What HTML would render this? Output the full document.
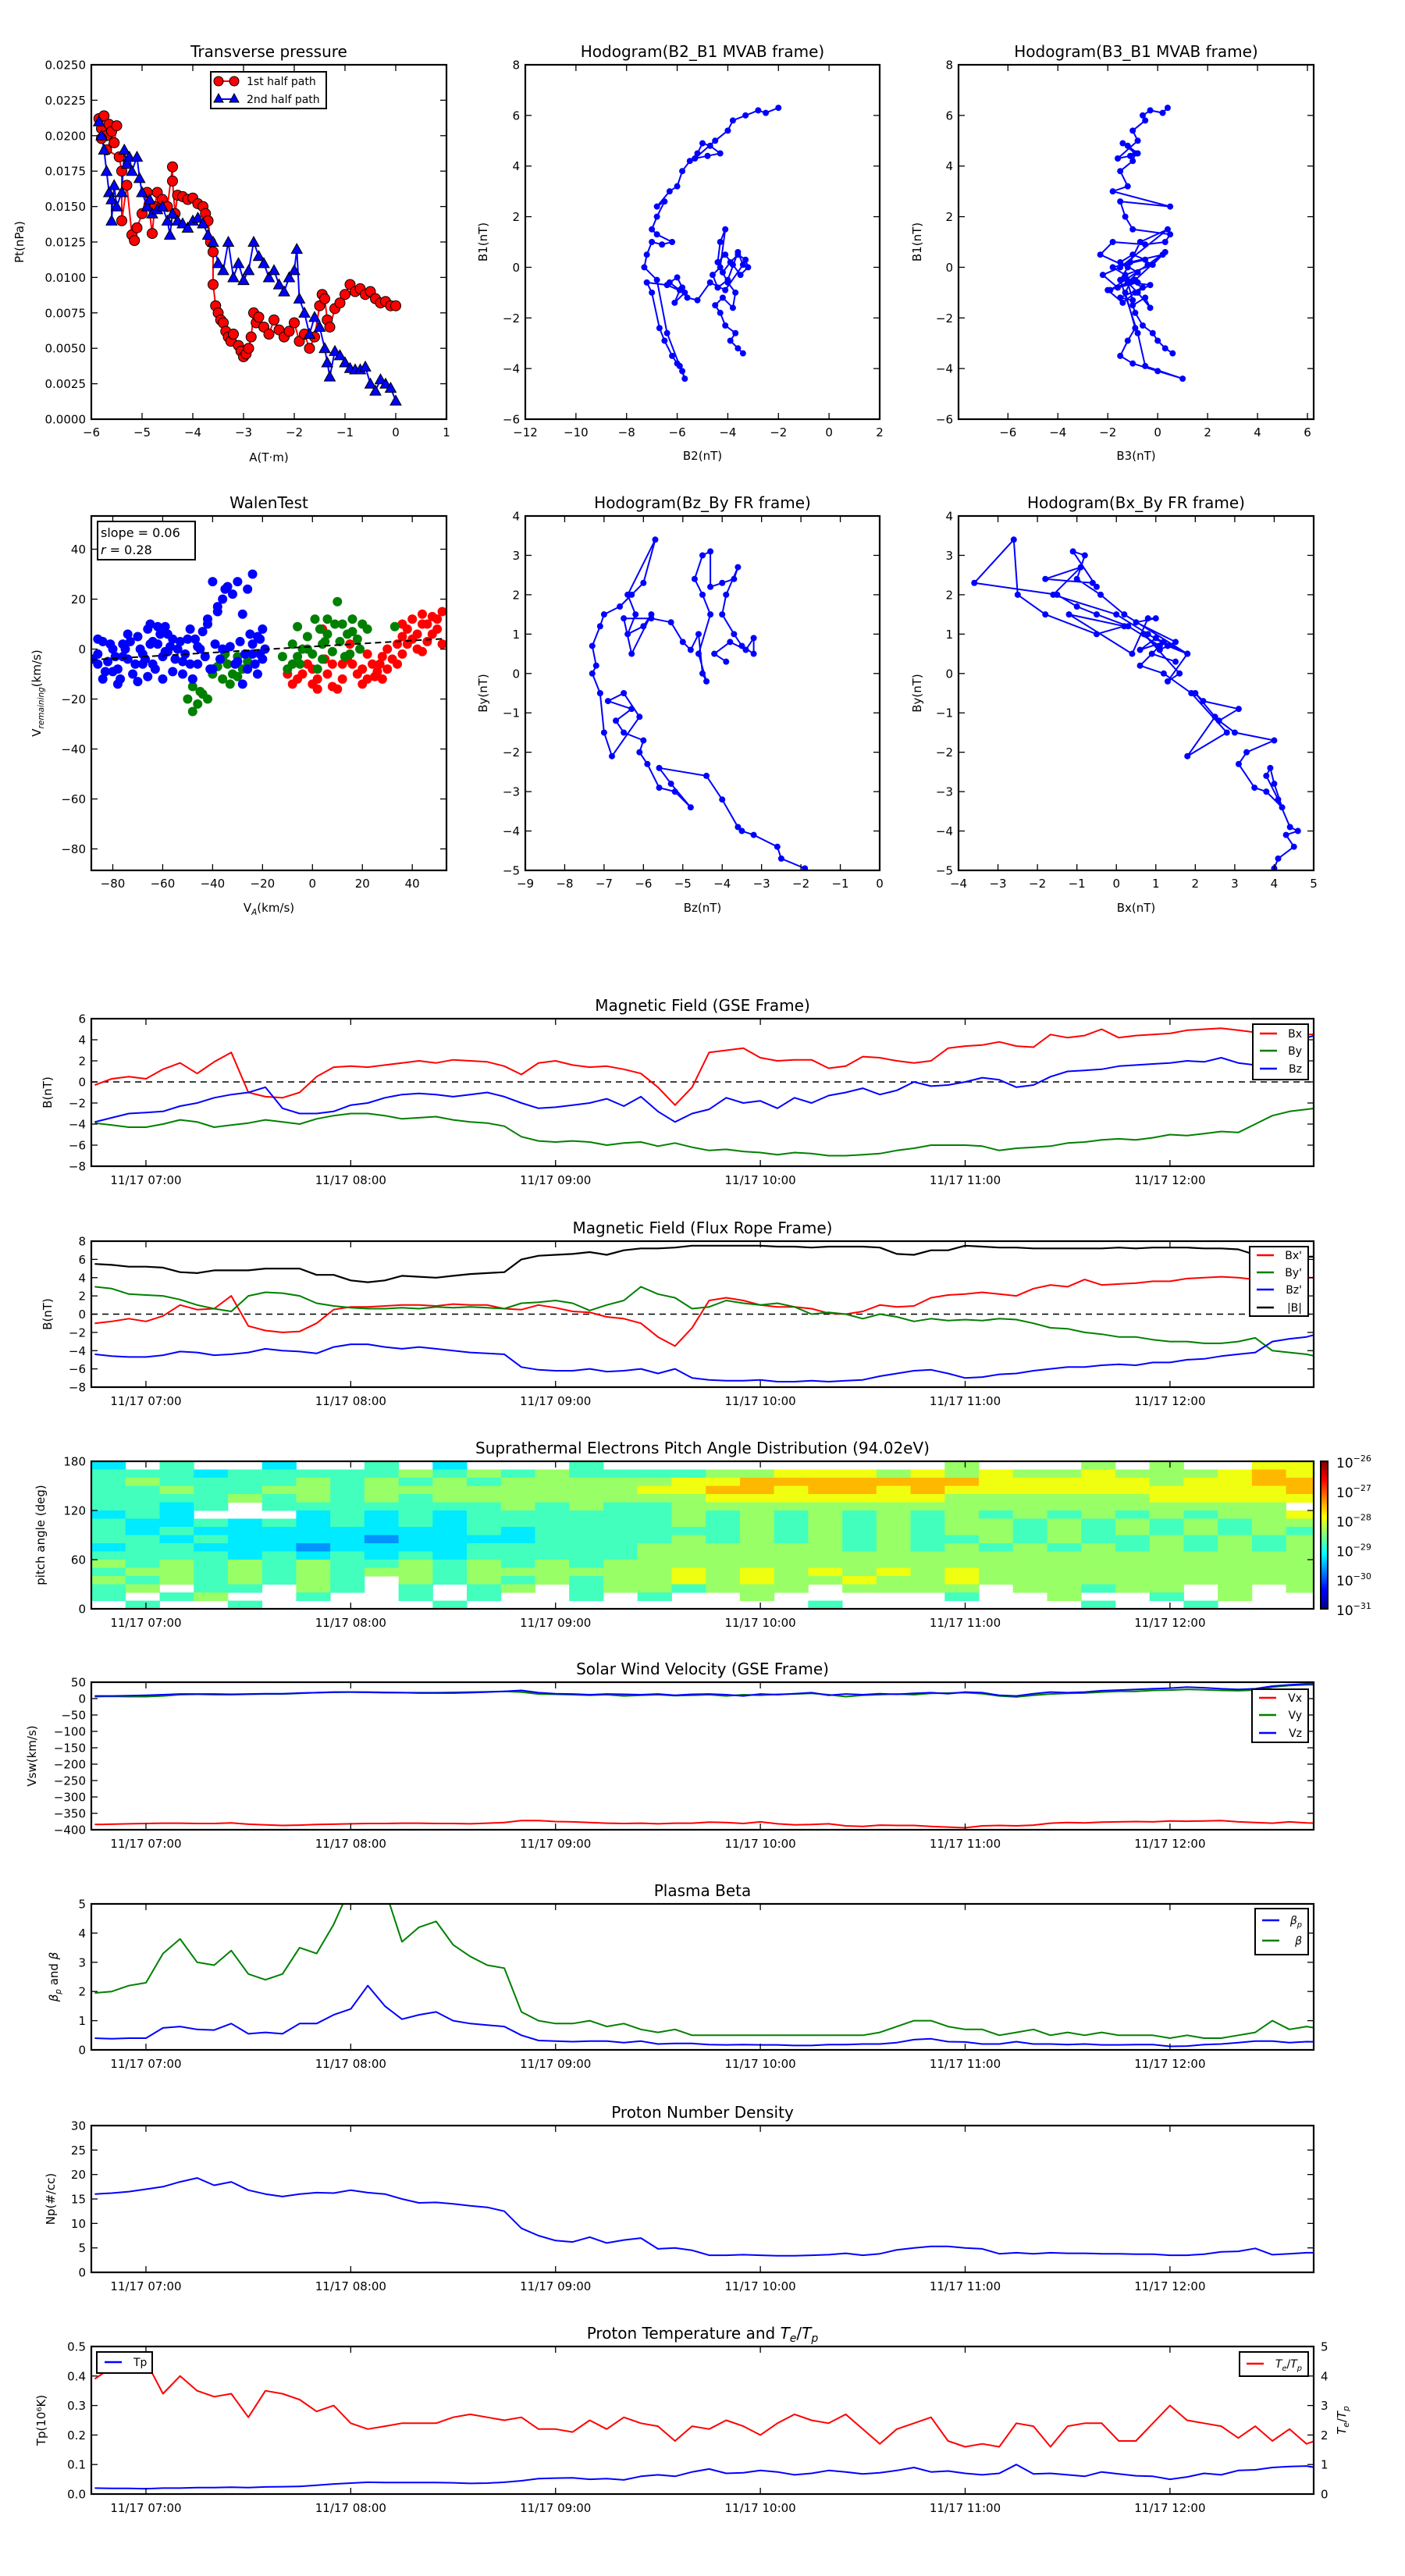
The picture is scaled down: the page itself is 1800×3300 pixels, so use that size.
<!DOCTYPE html>
<html><head><meta charset="utf-8">
<style>
body{margin:0;background:#fff}
svg{display:block}
text{font-family:"DejaVu Sans","Liberation Sans",sans-serif;fill:#000}
</style></head>
<body>
<svg id="fig" width="1800" height="3300" viewBox="0 0 1800 3300"></svg>
<script>
// ---------------- DATA ----------------
const times=[45,50,55,60,65,70,75,80,85,90,95,100,105,110,115,120,125,130,135,140,145,150,155,160,165,170,175,180,185,190,195,200,205,210,215,220,225,230,235,240,245,250,255,260,265,270,275,280,285,290,295,300,305,310,315,320,325,330,335,340,345,350,355,360,365,370,375,380,385,390,395,400,405];
const hourTicks=[60,120,180,240,300,360];
const hourLabels=["11/17 07:00","11/17 08:00","11/17 09:00","11/17 10:00","11/17 11:00","11/17 12:00"];

const gseBx=[-0.3,0.3,0.5,0.3,1.2,1.8,0.8,1.9,2.8,-1.0,-1.4,-1.5,-1.0,0.5,1.4,1.5,1.4,1.6,1.8,2.0,1.8,2.1,2.0,1.9,1.5,0.7,1.8,2.0,1.6,1.4,1.5,1.2,0.8,-0.5,-2.2,-0.5,2.8,3.0,3.2,2.3,2.0,2.1,2.1,1.3,1.5,2.4,2.3,2.0,1.8,2.0,3.2,3.4,3.5,3.8,3.4,3.3,4.5,4.2,4.4,5.0,4.2,4.4,4.5,4.6,4.9,5.0,5.1,4.9,4.7,4.5,4.6,4.5,4.5];
const gseBy=[-3.9,-4.1,-4.3,-4.3,-4.0,-3.6,-3.8,-4.3,-4.1,-3.9,-3.6,-3.8,-4.0,-3.5,-3.2,-3.0,-3.0,-3.2,-3.5,-3.4,-3.3,-3.6,-3.8,-3.9,-4.2,-5.2,-5.6,-5.7,-5.6,-5.7,-6.0,-5.8,-5.7,-6.1,-5.8,-6.2,-6.5,-6.4,-6.6,-6.7,-6.9,-6.7,-6.8,-7.0,-7.0,-6.9,-6.8,-6.5,-6.3,-6.0,-6.0,-6.0,-6.1,-6.5,-6.3,-6.2,-6.1,-5.8,-5.7,-5.5,-5.4,-5.5,-5.3,-5.0,-5.1,-4.9,-4.7,-4.8,-4.0,-3.2,-2.8,-2.6,-2.4];
const gseBz=[-3.8,-3.4,-3.0,-2.9,-2.8,-2.3,-2.0,-1.5,-1.2,-1.0,-0.5,-2.5,-3.0,-3.0,-2.8,-2.2,-2.0,-1.5,-1.2,-1.1,-1.2,-1.4,-1.2,-1.0,-1.4,-2.0,-2.5,-2.4,-2.2,-2.0,-1.6,-2.3,-1.4,-2.8,-3.8,-3.0,-2.6,-1.5,-2.0,-1.8,-2.5,-1.5,-2.0,-1.3,-1.0,-0.6,-1.2,-0.8,0.0,-0.4,-0.3,0.0,0.4,0.2,-0.5,-0.3,0.5,1.0,1.1,1.2,1.5,1.6,1.7,1.8,2.0,1.9,2.3,1.8,1.6,2.8,3.5,4.2,4.6];

const frBx=[-1.0,-0.8,-0.5,-0.8,-0.2,1.0,0.5,0.6,2.0,-1.3,-1.8,-2.0,-1.9,-1.0,0.5,0.8,0.8,0.9,1.0,1.0,0.9,1.1,1.0,1.0,0.6,0.5,1.0,0.7,0.3,0.2,-0.3,-0.5,-1.0,-2.5,-3.5,-1.5,1.5,1.8,1.5,1.0,0.8,0.8,0.6,0.1,0.0,0.3,1.0,0.8,0.9,1.8,2.1,2.2,2.4,2.2,2.0,2.8,3.2,3.0,3.8,3.2,3.3,3.4,3.6,3.6,3.9,4.0,4.1,4.0,3.8,4.0,4.0,4.0,4.0];
const frBy=[3.0,2.8,2.2,2.1,2.0,1.6,1.0,0.6,0.3,2.0,2.4,2.3,2.0,1.2,0.9,0.7,0.6,0.6,0.7,0.6,0.8,0.7,0.8,0.7,0.6,1.2,1.3,1.5,1.2,0.4,1.0,1.5,3.0,2.2,1.8,0.6,0.8,1.5,1.2,1.0,1.2,0.8,0.0,0.2,0.0,-0.5,0.0,-0.3,-0.8,-0.5,-0.7,-0.6,-0.7,-0.5,-0.6,-1.0,-1.5,-1.6,-2.0,-2.2,-2.5,-2.5,-2.8,-3.0,-3.0,-3.2,-3.2,-3.0,-2.6,-4.0,-4.2,-4.4,-4.8];
const frBz=[-4.4,-4.6,-4.7,-4.7,-4.5,-4.1,-4.2,-4.5,-4.4,-4.2,-3.8,-4.0,-4.1,-4.3,-3.6,-3.3,-3.3,-3.6,-3.8,-3.6,-3.8,-4.0,-4.2,-4.3,-4.4,-5.8,-6.1,-6.2,-6.2,-6.0,-6.3,-6.2,-6.0,-6.5,-6.0,-7.0,-7.2,-7.3,-7.3,-7.2,-7.4,-7.4,-7.3,-7.4,-7.3,-7.2,-6.8,-6.5,-6.2,-6.1,-6.5,-7.0,-6.9,-6.6,-6.5,-6.2,-6.0,-5.8,-5.8,-5.6,-5.5,-5.6,-5.3,-5.3,-5.0,-4.9,-4.6,-4.4,-4.2,-3.0,-2.7,-2.5,-2.0];
const frBmag=[5.5,5.4,5.2,5.2,5.1,4.6,4.5,4.8,4.8,4.8,5.0,5.0,5.0,4.3,4.3,3.7,3.5,3.7,4.2,4.1,4.0,4.2,4.4,4.5,4.6,6.0,6.4,6.5,6.6,6.8,6.5,7.0,7.2,7.2,7.3,7.5,7.5,7.5,7.5,7.5,7.4,7.4,7.3,7.4,7.4,7.4,7.3,6.6,6.5,7.0,7.0,7.5,7.4,7.3,7.3,7.2,7.2,7.2,7.2,7.2,7.3,7.2,7.3,7.3,7.3,7.2,7.2,7.1,6.5,6.4,6.3,6.3,6.3];

const swVx=[-384,-383,-382,-381,-380,-380,-381,-381,-379,-383,-385,-387,-386,-384,-383,-382,-381,-381,-380,-380,-381,-381,-382,-380,-378,-372,-372,-375,-376,-378,-380,-381,-380,-382,-380,-380,-377,-378,-381,-376,-382,-385,-384,-382,-388,-390,-386,-387,-387,-390,-392,-394,-388,-387,-388,-386,-380,-378,-379,-377,-376,-375,-376,-373,-374,-373,-372,-376,-378,-380,-376,-379,-381];
const swVy=[6,7,6,6,8,12,13,12,12,13,14,14,16,18,19,20,20,19,18,18,18,19,20,21,22,20,14,13,12,10,12,8,10,12,9,10,12,8,12,10,13,14,16,12,6,10,12,14,12,16,17,18,15,8,5,10,14,16,17,20,22,22,25,26,28,27,25,24,26,35,40,42,43];
const swVz=[8,8,9,10,12,14,14,14,13,14,15,15,17,18,20,20,19,18,18,17,17,17,18,20,22,25,18,15,14,12,14,13,12,14,10,13,14,12,8,14,12,15,18,10,14,12,15,13,16,18,15,20,18,10,8,15,20,18,20,24,26,28,30,32,35,33,30,28,30,38,42,45,44];

const betaP=[0.4,0.38,0.4,0.4,0.75,0.8,0.7,0.68,0.9,0.55,0.6,0.55,0.9,0.9,1.2,1.4,2.2,1.5,1.05,1.2,1.3,1.0,0.9,0.85,0.8,0.5,0.32,0.3,0.28,0.3,0.3,0.25,0.3,0.2,0.22,0.22,0.18,0.17,0.18,0.17,0.17,0.15,0.15,0.18,0.18,0.2,0.2,0.25,0.35,0.38,0.28,0.27,0.2,0.2,0.28,0.2,0.2,0.18,0.2,0.17,0.17,0.18,0.18,0.12,0.13,0.18,0.2,0.25,0.3,0.3,0.25,0.28,0.27];
const betaT=[1.95,2.0,2.2,2.3,3.3,3.8,3.0,2.9,3.4,2.6,2.4,2.6,3.5,3.3,4.3,5.6,6.0,5.5,3.7,4.2,4.4,3.6,3.2,2.9,2.8,1.3,1.0,0.9,0.9,1.0,0.8,0.9,0.7,0.6,0.7,0.5,0.5,0.5,0.5,0.5,0.5,0.5,0.5,0.5,0.5,0.5,0.6,0.8,1.0,1.0,0.8,0.7,0.7,0.5,0.6,0.7,0.5,0.6,0.5,0.6,0.5,0.5,0.5,0.4,0.5,0.4,0.4,0.5,0.6,1.0,0.7,0.8,0.7];

const densNp=[16,16.2,16.5,17,17.5,18.5,19.3,17.8,18.5,16.8,16,15.5,16,16.3,16.2,16.8,16.3,16.0,15,14.2,14.3,14.0,13.6,13.3,12.5,9.0,7.5,6.5,6.2,7.2,6.0,6.6,7.0,4.8,5.0,4.5,3.5,3.5,3.6,3.5,3.4,3.4,3.5,3.6,3.9,3.5,3.8,4.6,5.0,5.3,5.3,5.0,4.8,3.8,4.0,3.8,4.0,3.9,3.9,3.8,3.8,3.7,3.7,3.5,3.5,3.7,4.2,4.3,4.9,3.6,3.8,4.0,4.0];

const tempTp=[0.02,0.019,0.019,0.018,0.02,0.02,0.022,0.022,0.023,0.022,0.024,0.025,0.026,0.03,0.034,0.037,0.04,0.039,0.039,0.039,0.039,0.038,0.036,0.037,0.04,0.045,0.052,0.054,0.055,0.05,0.052,0.048,0.06,0.065,0.06,0.075,0.085,0.07,0.072,0.08,0.075,0.065,0.07,0.08,0.075,0.068,0.072,0.08,0.09,0.075,0.078,0.07,0.065,0.07,0.1,0.068,0.07,0.065,0.06,0.075,0.068,0.062,0.06,0.05,0.058,0.07,0.065,0.08,0.082,0.09,0.093,0.095,0.085];
const tempRatio=[3.9,4.3,4.6,4.5,3.4,4.0,3.5,3.3,3.4,2.6,3.5,3.4,3.2,2.8,3.0,2.4,2.2,2.3,2.4,2.4,2.4,2.6,2.7,2.6,2.5,2.6,2.2,2.2,2.1,2.5,2.2,2.6,2.4,2.3,1.8,2.3,2.2,2.5,2.3,2.0,2.4,2.7,2.5,2.4,2.7,2.2,1.7,2.2,2.4,2.6,1.8,1.6,1.7,1.6,2.4,2.3,1.6,2.3,2.4,2.4,1.8,1.8,2.4,3.0,2.5,2.4,2.3,1.9,2.3,1.8,2.2,1.7,1.9];

// PAD: rows top (170-180 deg) to bottom (0-10 deg); 10-min columns from padStart; digit d -> log10 f = -31 + d/2 ; '.' = no data
const padStart=44, padStep=10;
const padBins=[175,165,155,145,135,125,115,105,95,85,75,65,55,45,35,25,15,5];
const padRows=[
"3.4..3..4.3...4..........5...5.5..66",
"444344444545454444556665656556555676",
"454444545454555556677777776666656677",
"445445545555555566776776766666666667",
"444454545455555555666666655555566666",
"4434.444444454544555555555555555555.",
"343...343434444445454545454545454556",
"433434343434444445454545455454545455",
"434333333334344444454545455454545454",
"443433332333344445454545445454454545",
"344333233334444455555545454545454545",
"444434343434444455555555555555555555",
"545454544545454555555555555555555555",
"455454545545555556565656565555555555",
"54545454.545454556565565565555555555",
"45.44.54.4.45.4554555.5555.55455.5.5",
"4.45..4..4.4..4.4..5.....4..5..4.5..",
".4..4.....4..........4.......4..4..."];
const cbExps=[-26,-27,-28,-29,-30,-31];

// Transverse pressure
const pt1A=[-5.85,-5.8,-5.75,-5.7,-5.65,-5.8,-5.6,-5.55,-5.5,-5.7,-5.45,-5.4,-5.4,-5.3,-5.2,-5.15,-5.1,-5.0,-4.9,-4.8,-4.75,-4.7,-4.6,-4.5,-4.4,-4.4,-4.35,-4.3,-4.2,-4.1,-4.0,-3.9,-3.8,-3.75,-3.7,-3.65,-3.6,-3.6,-3.55,-3.5,-3.45,-3.4,-3.35,-3.3,-3.25,-3.2,-3.1,-3.05,-3.0,-2.95,-2.9,-2.85,-2.8,-2.75,-2.7,-2.6,-2.5,-2.4,-2.3,-2.2,-2.1,-2.0,-1.9,-1.8,-1.7,-1.6,-1.5,-1.45,-1.4,-1.35,-1.3,-1.2,-1.1,-1.0,-0.9,-0.8,-0.7,-0.6,-0.5,-0.4,-0.3,-0.2,-0.1,0.0];
const pt1P=[0.0212,0.0205,0.0214,0.0200,0.0208,0.0198,0.0203,0.0195,0.0207,0.0190,0.0185,0.0175,0.0140,0.0165,0.0130,0.0126,0.0135,0.0145,0.0160,0.0131,0.0150,0.0160,0.0155,0.0150,0.0178,0.0168,0.0145,0.0158,0.0157,0.0155,0.0156,0.0152,0.0150,0.0145,0.0140,0.0125,0.0118,0.0095,0.0080,0.0075,0.0070,0.0068,0.0062,0.0058,0.0055,0.0060,0.0052,0.0048,0.0044,0.0046,0.0050,0.0058,0.0075,0.0068,0.0072,0.0065,0.0060,0.0070,0.0063,0.0058,0.0062,0.0068,0.0055,0.0060,0.0050,0.0058,0.0080,0.0088,0.0085,0.0070,0.0065,0.0078,0.0082,0.0088,0.0095,0.0090,0.0092,0.0088,0.0090,0.0085,0.0082,0.0083,0.0080,0.0080];
const pt2A=[-5.85,-5.8,-5.75,-5.7,-5.65,-5.6,-5.6,-5.55,-5.5,-5.4,-5.35,-5.3,-5.25,-5.2,-5.1,-5.05,-5.0,-4.9,-4.85,-4.8,-4.7,-4.6,-4.5,-4.45,-4.4,-4.3,-4.2,-4.1,-4.0,-3.9,-3.8,-3.7,-3.6,-3.5,-3.4,-3.3,-3.2,-3.1,-3.0,-2.9,-2.8,-2.7,-2.6,-2.5,-2.4,-2.3,-2.2,-2.1,-2.0,-1.95,-1.9,-1.8,-1.7,-1.6,-1.5,-1.4,-1.35,-1.3,-1.2,-1.1,-1.0,-0.9,-0.8,-0.7,-0.6,-0.5,-0.4,-0.3,-0.2,-0.1,0.0];
const pt2P=[0.0210,0.0200,0.0190,0.0175,0.0160,0.0155,0.0140,0.0165,0.0150,0.0160,0.0190,0.0180,0.0185,0.0175,0.0185,0.0170,0.0160,0.0150,0.0155,0.0145,0.0148,0.0150,0.0140,0.0130,0.0145,0.0140,0.0138,0.0135,0.0140,0.0142,0.0138,0.0130,0.0125,0.0110,0.0105,0.0125,0.0100,0.0110,0.0098,0.0105,0.0125,0.0115,0.0110,0.0100,0.0105,0.0095,0.0090,0.0100,0.0105,0.0120,0.0085,0.0075,0.0060,0.0072,0.0065,0.0050,0.0040,0.0030,0.0048,0.0045,0.0040,0.0036,0.0035,0.0035,0.0037,0.0025,0.0020,0.0028,0.0025,0.0022,0.0013];

// MVAB hodograms (same time sequence)
const mvB2=[-3.4,-3.6,-3.9,-3.7,-4.1,-4.3,-4.5,-4.2,-3.8,-3.7,
-4.0,-4.2,-3.9,-3.6,-3.3,-3.2,-3.5,-3.8,-4.1,-4.4,
-4.3,-4.1,-4.3,-4.6,-4.4,-4.0,-3.6,-3.4,-4.1,-4.7,
-5.2,-5.6,-5.8,-6.0,-6.3,-5.9,-6.1,-5.7,-6.4,-7.2,
-7.0,-6.7,-6.5,-6.2,-6.0,-5.8,-5.7,-5.9,-6.4,-6.8,
-7.3,-7.2,-7.0,-6.6,-6.2,-6.8,-7.0,-6.8,-6.5,-6.8,
-6.3,-6.0,-5.8,-5.5,-5.2,-5.0,-4.7,-4.3,-4.8,-5.3,
-4.5,-4.0,-3.8,-3.3,-2.8,-2.5,-2.0];
const mvB1=[-3.4,-3.2,-2.9,-2.6,-2.3,-1.8,-1.5,-1.2,-1.6,-1.0,
-0.6,-0.2,0.2,0.5,0.3,0.0,-0.3,0.1,0.5,0.2,
1.0,1.5,0.0,-0.3,-0.8,-0.5,0.6,0.1,-0.9,-0.6,
-1.3,-1.2,-0.8,-0.4,-0.6,-0.9,-1.4,-1.0,-0.7,-0.6,
-1.0,-2.4,-2.9,-3.5,-3.8,-4.1,-4.4,-3.9,-2.6,-0.5,
0.0,0.5,1.0,0.9,1.0,1.3,1.5,2.0,2.6,2.4,
3.0,3.2,3.8,4.2,4.5,4.9,4.8,4.5,4.4,4.3,
5.0,5.4,5.8,6.0,6.2,6.1,6.3];
const mvB3=[0.6,0.3,0.0,-0.2,-0.6,-0.9,-1.0,-0.5,-0.3,-0.8,
-1.2,-0.8,-1.5,-1.0,-0.5,-1.8,-1.3,-0.2,0.2,-1.1,
-0.7,0.4,-1.5,-2.2,-1.6,-0.9,0.3,-0.4,-1.9,-1.2,
-1.0,-1.5,-0.6,-1.3,-0.8,-2.0,-1.4,-0.9,-0.3,-1.1,
-1.3,-0.9,-1.2,-1.5,-1.0,0.0,1.0,-0.5,-0.8,-1.5,
-1.2,-2.3,-1.8,-0.5,0.3,0.5,-1.0,-1.3,-1.5,0.5,
-1.8,-1.2,-1.5,-1.0,-0.9,-1.4,-1.2,-0.8,-1.1,-1.6,
-0.8,-1.0,-0.5,-0.6,-0.3,0.2,0.4];

// Flux-rope frame hodograms
const hfBz=[-1.9,-2.5,-2.6,-3.2,-3.5,-3.6,-4.0,-4.4,-5.6,-5.3,
-4.8,-5.2,-5.6,-5.9,-6.1,-6.0,-6.5,-6.7,-6.3,-6.9,
-6.5,-6.1,-6.8,-7.0,-7.1,-7.3,-7.2,-7.3,-7.1,-7.0,
-6.6,-6.3,-6.0,-5.7,-6.4,-6.2,-6.4,-6.0,-5.8,-6.3,
-6.5,-5.8,-5.3,-5.0,-4.8,-4.6,-4.5,-4.4,-4.6,-4.3,
-4.5,-4.7,-4.5,-4.3,-4.3,-4.0,-3.7,-3.6,-3.9,-4.0,
-3.7,-3.5,-3.2,-3.2,-3.4,-3.8,-4.2,-3.9];
const hfBy=[-4.95,-4.7,-4.4,-4.1,-4.0,-3.9,-3.2,-2.6,-2.4,-2.8,
-3.4,-3.0,-2.9,-2.3,-2.0,-1.7,-1.5,-1.2,-0.9,-0.7,
-0.5,-1.1,-2.1,-1.5,-0.5,0.0,0.2,0.7,1.2,1.5,
1.7,2.0,2.3,3.4,2.0,1.5,1.0,1.2,1.5,0.5,
1.4,1.4,1.3,0.8,0.6,1.0,0.0,-0.2,0.5,1.5,
2.0,2.4,3.0,3.1,2.2,2.3,2.4,2.7,2.0,1.5,
1.0,0.7,0.5,0.9,0.6,0.8,0.5,0.3];
const hfBx=[4.0,4.1,4.5,4.3,4.6,4.4,4.1,3.8,3.9,4.0,
4.2,3.8,3.5,3.1,3.3,4.0,3.0,2.6,3.1,2.2,
2.0,2.5,1.8,2.8,1.9,1.2,0.6,1.1,0.3,-0.5,
-1.0,-1.5,-3.6,-2.6,-2.5,-1.8,-0.5,0.2,-1.2,0.4,
0.8,1.0,0.5,1.5,1.1,0.7,1.6,1.3,1.8,0.2,
-0.4,-1.0,-0.8,-1.1,-0.5,-0.6,-1.8,-0.9,-1.6,0.0,
0.8,1.3,1.8,1.0,0.6,1.2,0.9,1.5];

// Walen test
const walenBlueX=[-86,-84,-82,-80,-78,-76,-74,-72,-70,-68,-66,-64,-62,-60,-58,-56,-54,-52,-50,-48,-46,-44,-42,-40,-38,-36,-34,-32,-30,-28,-26,-24,-22,-20,-24,-26,-28,-30,-22,-20,-84,-78,-70,-66,-60,-56,-62,-74,-80,-86,-52,-46,-40,-36,-24,-21,-64,-58,-68,-76,
-88,-86,-83,-81,-79,-77,-75,-73,-71,-69,-67,-65,-63,-61,-59,-57,-55,-53,-51,-49,-47,-45,-43,-41,-39,-37,-33,-31,-29,-27,-25,-23,-21,-19,-65,-59,-49,-38,-35,-42];
const walenBlueY=[-2,3,-5,0,-8,2,-4,-10,5,-2,8,-6,2,-3,6,-9,0,-5,4,-12,1,7,12,27,15,20,25,22,27,14,24,30,5,8,-2,-8,-14,-5,-10,-4,-12,-14,-13,-11,-12,4,9,6,-9,-6,-10,-6,-8,0,2,-2,3,-1,-6,-3,
-4,4,-9,2,-3,-12,0,3,-6,0,-4,2,-8,6,-1,1,-4,3,-2,-6,4,0,-3,-8,2,-4,1,-6,3,-2,6,-6,4,0,10,9,8,17,24,10];
const walenGreenX=[-50,-48,-46,-44,-48,-45,-36,-34,-32,-30,-38,-35,-40,-28,-33,-12,-8,-5,-2,0,3,5,8,10,12,14,16,18,20,-4,2,6,-10,15,22,-6,33,4,
-48,-42,-36,-30,-26,-8,-2,4,6,9,11,13,16,19,1,-6];
const walenGreenY=[-20,-25,-22,-18,-12,-17,-12,-6,-10,-3,-7,-2,-10,-8,-14,-3,2,-6,5,-2,8,3,-1,19,10,6,12,4,10,0,-8,12,-8,-2,8,9,9,2,
-15,-20,-4,-11,-5,-6,0,-4,6,10,3,-3,7,0,12,-3];
const walenRedX=[-10,-6,-2,0,2,6,8,10,12,15,18,20,22,24,26,28,30,32,34,36,38,40,42,44,46,48,50,52,52,46,40,36,14,8,4,0,-4,28,20,44,
-8,2,5,12,16,22,25,30,34,38,42,48,50,44,36,27];
const walenRedY=[-10,-12,-6,-14,-16,-10,-15,-16,-6,2,-10,-8,-12,-6,-9,-3,-8,-4,2,5,8,12,6,10,3,13,8,15,2,10,4,-2,-4,-6,8,-8,-10,-12,-14,-1,
-14,-12,-4,-12,-6,-2,-11,0,-6,2,0,6,12,14,10,-6];
const walenSlope=0.06, walenIntercept=1.0;

// ---------------- DRAW HELPERS ----------------
const NS='http://www.w3.org/2000/svg';
const svg=document.getElementById('fig');
const defs=document.createElementNS(NS,'defs');svg.appendChild(defs);
function el(tag,attrs,parent){const e=document.createElementNS(NS,tag);for(const k in attrs)e.setAttribute(k,attrs[k]);(parent||svg).appendChild(e);return e;}
function txt(x,y,s,attrs,parent){const e=el('text',Object.assign({x:x,y:y},attrs||{}),parent);e.textContent=s;return e;}
function fmt(v,d){let s=(d===undefined)?String(v):v.toFixed(d);return s.replace('-','\u2212');}
let clipN=0;

function makeAxes(name,x0,y0,x1,y1,xmin,xmax,ymin,ymax){
  const g=el('g',{});
  
  
  const sx=v=>x0+(v-xmin)/(xmax-xmin)*(x1-x0);
  const sy=v=>y1-(v-ymin)/(ymax-ymin)*(y1-y0);
  const id='clip'+(clipN++);
  const cp=el('clipPath',{id:id},defs);
  el('rect',{x:x0,y:y0,width:x1-x0,height:y1-y0},cp);
  const plot=el('g',{'clip-path':'url(#'+id+')'},g);
  
  
  return {g,plot,sx,sy,x0,y0,x1,y1};
}
function frame(ax){
  const r=el('rect',{x:ax.x0,y:ax.y0,width:ax.x1-ax.x0,height:ax.y1-ax.y0,fill:'none',stroke:'#000','stroke-width':2.2},ax.g);
  
  
}
function xTicks(ax,vals,labels,ty){
  vals.forEach((v,i)=>{
    const x=ax.sx(v);
    el('line',{x1:x,x2:x,y1:ax.y1,y2:ax.y1-8,stroke:'#000','stroke-width':1.3},ax.g);
    el('line',{x1:x,x2:x,y1:ax.y0,y2:ax.y0+8,stroke:'#000','stroke-width':1.3},ax.g);
    const t=txt(x,ax.y1+(ty||22),labels[i],{'font-size':15,'text-anchor':'middle'},ax.g);
    
    
  });
}
function yTicks(ax,vals,labels,right){
  vals.forEach((v,i)=>{
    const y=ax.sy(v);
    el('line',{x1:ax.x0,x2:ax.x0+8,y1:y,y2:y,stroke:'#000','stroke-width':1.3},ax.g);
    el('line',{x1:ax.x1,x2:ax.x1-8,y1:y,y2:y,stroke:'#000','stroke-width':1.3},ax.g);
    const t=txt(ax.x0-7,y+5.5,labels[i],{'font-size':15,'text-anchor':'end'},ax.g);
    
    
  });
}
function title(ax,s,name){
  const t=txt((ax.x0+ax.x1)/2,ax.y0-10,s,{'font-size':20,'text-anchor':'middle'},ax.g);
  
  
  return t;
}
function ylabel(ax,x,s,name,color){
  const cy=(ax.y0+ax.y1)/2;
  const t=txt(x,cy,s,{'font-size':15,'text-anchor':'middle',transform:'rotate(-90 '+x+' '+cy+')',fill:color||'#000'},ax.g);
  
  
  return t;
}
function xlabel(ax,y,s,name){
  const t=txt((ax.x0+ax.x1)/2,y,s,{'font-size':15,'text-anchor':'middle'},ax.g);
  
  
  return t;
}
function line(ax,xs,ys,color,w,name,dash){
  const n=Math.min(xs.length,ys.length);let d='';
  for(let i=0;i<n;i++)d+=(i?'L':'M')+ax.sx(xs[i]).toFixed(1)+' '+ax.sy(ys[i]).toFixed(1);
  const p=el('path',{d:d,fill:'none',stroke:color,'stroke-width':w||2,'stroke-linejoin':'round'},ax.plot);
  if(dash)p.setAttribute('stroke-dasharray',dash);
  
  
  return p;
}
function dots(ax,xs,ys,color,r,name,stroke){
  const n=Math.min(xs.length,ys.length);
  for(let i=0;i<n;i++){
    const c=el('circle',{cx:ax.sx(xs[i]),cy:ax.sy(ys[i]),r:r,fill:color,stroke:stroke||'none','stroke-width':1},ax.plot);
    
    
  }
}
function tris(ax,xs,ys,color,r,name){
  const n=Math.min(xs.length,ys.length);
  for(let i=0;i<n;i++){
    const x=ax.sx(xs[i]),y=ax.sy(ys[i]);
    const p=el('polygon',{points:x+','+(y-r)+' '+(x-r)+','+(y+r*0.8)+' '+(x+r)+','+(y+r*0.8),fill:color,stroke:'#000','stroke-width':1},ax.plot);
    
    
  }
}
function legend(ax,x,y,w,h,items,name){
  const g=el('g',{},ax.g);
  
  
  el('rect',{x:x,y:y,width:w,height:h,fill:'#fff',stroke:'#000','stroke-width':2},g);
  items.forEach(it=>{
    el('line',{x1:x+9,x2:x+31,y1:it.y,y2:it.y,stroke:it.c,'stroke-width':2.5},g);
    const t=txt(x+w-8,it.y+5,'',{'font-size':14,'text-anchor':'end'},g);
    if(it.html){it.html(t);}else t.textContent=it.s;
    
    
  });
  return g;
}
function sub(t,base,subs,italic){
  const a=document.createElementNS(NS,'tspan');a.textContent=base;if(italic)a.setAttribute('font-style','italic');t.appendChild(a);
  const b=document.createElementNS(NS,'tspan');b.textContent=subs;b.setAttribute('font-size','0.7em');b.setAttribute('dy','4');if(italic)b.setAttribute('font-style','italic');t.appendChild(b);
  const c=document.createElementNS(NS,'tspan');c.setAttribute('dy','-4');c.textContent='';t.appendChild(c);
  return c;
}

// ---------------- TOP GRID ----------------
const colX=[[117,572],[673,1127],[1228,1683]];
const row1=[83,537], row2=[661,1115];

// Transverse pressure
{
  const ax=makeAxes('transverse-pressure-chart',colX[0][0],row1[0],colX[0][1],row1[1],-6,1,0,0.025);
  line(ax,pt1A,pt1P,'#f00',2,'first-half-line');
  line(ax,pt2A,pt2P,'#00f',2,'second-half-line');
  dots(ax,pt1A,pt1P,'#f00',6.5,'first-half-marker','#000');
  tris(ax,pt2A,pt2P,'#00f',7,'second-half-marker');
  frame(ax);
  const yv=[0,0.0025,0.005,0.0075,0.01,0.0125,0.015,0.0175,0.02,0.0225,0.025];
  yTicks(ax,yv,yv.map(v=>v.toFixed(4)));
  const xv=[-6,-5,-4,-3,-2,-1,0,1];xTicks(ax,xv,xv.map(v=>fmt(v)));
  title(ax,'Transverse pressure','transverse-pressure-title');
  ylabel(ax,30,'Pt(nPa)','pt-axis-title');
  xlabel(ax,591,'A(T\u00b7m)','a-axis-title');
  const lg=el('g',{},ax.g);
  
  
  el('rect',{x:270,y:92,width:148,height:47,fill:'#fff',stroke:'#000','stroke-width':2},lg);
  el('line',{x1:280,x2:300,y1:104,y2:104,stroke:'#f00','stroke-width':2},lg);
  el('circle',{cx:280,cy:104,r:6,fill:'#f00',stroke:'#000'},lg);el('circle',{cx:300,cy:104,r:6,fill:'#f00',stroke:'#000'},lg);
  el('line',{x1:280,x2:300,y1:127,y2:127,stroke:'#00f','stroke-width':2},lg);
  el('polygon',{points:'280,120 274,131 286,131',fill:'#00f',stroke:'#000'},lg);el('polygon',{points:'300,120 294,131 306,131',fill:'#00f',stroke:'#000'},lg);
  const l1=txt(316,109,'1st half path',{'font-size':14},lg);
  
  
  const l2=txt(316,132,'2nd half path',{'font-size':14},lg);
  
  
}
// Hodogram B2_B1
{
  const ax=makeAxes('hodogram-b2-b1',colX[1][0],row1[0],colX[1][1],row1[1],-12,2,-6,8);
  line(ax,mvB2,mvB1,'#00f',2,'b2-b1-path');dots(ax,mvB2,mvB1,'#00f',4,'b2-b1-point');
  frame(ax);
  const xv=[-12,-10,-8,-6,-4,-2,0,2];xTicks(ax,xv,xv.map(v=>fmt(v)));
  const yv=[-6,-4,-2,0,2,4,6,8];yTicks(ax,yv,yv.map(v=>fmt(v)));
  title(ax,'Hodogram(B2_B1 MVAB frame)','hodogram-b2-b1-title');
  ylabel(ax,624,'B1(nT)','b1-axis-title');xlabel(ax,589,'B2(nT)','b2-axis-title');
}
// Hodogram B3_B1
{
  const ax=makeAxes('hodogram-b3-b1',colX[2][0],row1[0],colX[2][1],row1[1],-7.98,6.25,-6,8);
  line(ax,mvB3,mvB1,'#00f',2,'b3-b1-path');dots(ax,mvB3,mvB1,'#00f',4,'b3-b1-point');
  frame(ax);
  const xv=[-6,-4,-2,0,2,4,6];xTicks(ax,xv,xv.map(v=>fmt(v)));
  const yv=[-6,-4,-2,0,2,4,6,8];yTicks(ax,yv,yv.map(v=>fmt(v)));
  title(ax,'Hodogram(B3_B1 MVAB frame)','hodogram-b3-b1-title');
  ylabel(ax,1180,'B1(nT)','b1-axis-title-2');xlabel(ax,589,'B3(nT)','b3-axis-title');
}
// Walen test
{
  const ax=makeAxes('walen-test-chart',colX[0][0],row2[0],colX[0][1],row2[1],-88.6,53.7,-88.6,53.3);
  dots(ax,walenRedX,walenRedY,'#f00',6,'walen-red-point');
  dots(ax,walenGreenX,walenGreenY,'#008000',6,'walen-green-point');
  dots(ax,walenBlueX,walenBlueY,'#00f',6,'walen-blue-point');
  line(ax,[-88.6,53.7],[walenSlope*-88.6+walenIntercept,walenSlope*53.7+walenIntercept],'#000',2,'walen-fit-line','8,5');
  frame(ax);
  const xv=[-80,-60,-40,-20,0,20,40];xTicks(ax,xv,xv.map(v=>fmt(v)));
  const yv=[-80,-60,-40,-20,0,20,40];yTicks(ax,yv,yv.map(v=>fmt(v)));
  title(ax,'WalenTest','walen-test-title');
  const yl=ylabel(ax,52,'','v-remaining-axis-title');
  yl.textContent='';const a=sub(yl,'V','remaining',false);a.textContent='(km/s)';
  yl.childNodes[1].setAttribute('font-style','italic');
  const xl=xlabel(ax,1168,'','va-axis-title');const b=sub(xl,'V','A',false);b.textContent='(km/s)';xl.childNodes[1].setAttribute('font-style','italic');
  const bx=el('g',{},ax.g);
  
  
  el('rect',{x:125,y:668,width:125,height:49,fill:'#fff',stroke:'#000','stroke-width':2},bx);
  const s1=txt(129,688,'slope = '+walenSlope.toFixed(2),{'font-size':16},bx);
  
  
  const s2=txt(129,710,'',{'font-size':16},bx);
  
  
  const ri=document.createElementNS(NS,'tspan');ri.setAttribute('font-style','italic');ri.textContent='r';s2.appendChild(ri);
  const rv=document.createElementNS(NS,'tspan');rv.textContent=' = 0.28';s2.appendChild(rv);
}
// Hodogram Bz_By
{
  const ax=makeAxes('hodogram-bz-by',colX[1][0],row2[0],colX[1][1],row2[1],-9,0,-5,4);
  line(ax,hfBz,hfBy,'#00f',2,'bz-by-path');dots(ax,hfBz,hfBy,'#00f',4,'bz-by-point');
  frame(ax);
  const xv=[-9,-8,-7,-6,-5,-4,-3,-2,-1,0];xTicks(ax,xv,xv.map(v=>fmt(v)));
  const yv=[-5,-4,-3,-2,-1,0,1,2,3,4];yTicks(ax,yv,yv.map(v=>fmt(v)));
  title(ax,'Hodogram(Bz_By FR frame)','hodogram-bz-by-title');
  ylabel(ax,624,'By(nT)','by-axis-title');xlabel(ax,1168,'Bz(nT)','bz-axis-title');
}
// Hodogram Bx_By
{
  const ax=makeAxes('hodogram-bx-by',colX[2][0],row2[0],colX[2][1],row2[1],-4,5,-5,4);
  line(ax,hfBx,hfBy,'#00f',2,'bx-by-path');dots(ax,hfBx,hfBy,'#00f',4,'bx-by-point');
  frame(ax);
  const xv=[-4,-3,-2,-1,0,1,2,3,4,5];xTicks(ax,xv,xv.map(v=>fmt(v)));
  const yv=[-5,-4,-3,-2,-1,0,1,2,3,4];yTicks(ax,yv,yv.map(v=>fmt(v)));
  title(ax,'Hodogram(Bx_By FR frame)','hodogram-bx-by-title');
  ylabel(ax,1180,'By(nT)','by-axis-title-2');xlabel(ax,1168,'Bx(nT)','bx-axis-title');
}

// ---------------- TIME SERIES ----------------
const TX0=117,TX1=1683,TMIN=44,TMAX=402.1;
function tsAxes(name,y0,y1,ymin,ymax,yv,ylab,ttl,ylx){
  const ax=makeAxes(name,TX0,y0,TX1,y1,TMIN,TMAX,ymin,ymax);
  ax.finish=function(){
    frame(ax);
    xTicks(ax,hourTicks,hourLabels,23);
    yTicks(ax,yv,yv.map(v=>fmt(v)));
  };
  title(ax,ttl,name+'-title');
  return ax;
}
// GSE
{
  const ax=tsAxes('gse-field-chart',1305,1494,-8,6,[-8,-6,-4,-2,0,2,4,6]);
  line(ax,[TMIN,TMAX],[0,0],'#000',1.5,'zero-line','8,6');
  line(ax,times,gseBx,'#f00',2,'bx-line');line(ax,times,gseBy,'#008000',2,'by-line');line(ax,times,gseBz,'#00f',2,'bz-line');
  ax.finish();
  ax.g.querySelector('text').textContent='Magnetic Field (GSE Frame)';
  ylabel(ax,66,'B(nT)','b-axis-title');
  legend(ax,1605,1312,71,71,[{y:1324,c:'#f00',s:'Bx'},{y:1346,c:'#008000',s:'By'},{y:1369,c:'#00f',s:'Bz'}],'gse-legend');
}
// Flux rope
{
  const ax=tsAxes('flux-rope-field-chart',1590,1777,-8,8,[-8,-6,-4,-2,0,2,4,6,8]);
  line(ax,[TMIN,TMAX],[0,0],'#000',1.5,'zero-line','8,6');
  line(ax,times,frBmag,'#000',2.2,'bmag-line');line(ax,times,frBx,'#f00',2,'bx-prime-line');line(ax,times,frBy,'#008000',2,'by-prime-line');line(ax,times,frBz,'#00f',2,'bz-prime-line');
  ax.finish();
  ax.g.querySelector('text').textContent='Magnetic Field (Flux Rope Frame)';
  ylabel(ax,66,'B(nT)','b-axis-title-fr');
  legend(ax,1601,1597,75,89,[{y:1608,c:'#f00',s:"Bx'"},{y:1630,c:'#008000',s:"By'"},{y:1652,c:'#00f',s:"Bz'"},{y:1675,c:'#000',s:'|B|'}],'flux-rope-legend');
}
// PAD
{
  const ax=tsAxes('pitch-angle-chart',1872,2061,0,180,[0,60,120,180]);
  const jet=f=>{const c=v=>Math.round(255*Math.max(0,Math.min(1,v)));return 'rgb('+c(1.5-Math.abs(4*f-3))+','+c(1.5-Math.abs(4*f-2))+','+c(1.5-Math.abs(4*f-1))+')';};
  padRows.forEach((row,ri)=>{
    for(let ci=0;ci<row.length;ci++){
      const ch=row[ci];if(ch==='.')continue;
      const logv=-31+Number(ch)/2;
      const t0=padStart+ci*padStep;
      const xa=ax.sx(t0),xb=ax.sx(t0+padStep);
      const ya=ax.sy(padBins[ri]+5),yb=ax.sy(padBins[ri]-5);
      const f=0.1+0.85*(logv+31)/5;
      const r=el('rect',{x:xa.toFixed(1),y:ya.toFixed(1),width:(xb-xa+0.5).toFixed(1),height:(yb-ya+0.5).toFixed(1),fill:jet(f)},ax.plot);
      
      
    }
  });
  ax.finish();
  ax.g.querySelector('text').textContent='Suprathermal Electrons Pitch Angle Distribution (94.02eV)';
  ylabel(ax,57,'pitch angle (deg)','pitch-angle-axis-title');
  const grad=el('linearGradient',{id:'jetgrad',x1:0,y1:1,x2:0,y2:0},defs);
  [[0,'#00008f'],[0.125,'#0000ff'],[0.375,'#00ffff'],[0.625,'#ffff00'],[0.875,'#ff0000'],[1,'#800000']].forEach(s=>el('stop',{offset:s[0],'stop-color':s[1]},grad));
  const cb=el('g',{});
  
  
  el('rect',{x:1692,y:1872,width:9,height:189,fill:'url(#jetgrad)',stroke:'#000','stroke-width':2},cb);
  cbExps.forEach((e,i)=>{
    const y=1872+i*189/5;
    const t=txt(1712,y+8,'10',{'font-size':17},cb);
    
    
    const s=document.createElementNS(NS,'tspan');s.setAttribute('dy','-8');s.setAttribute('font-size','11');s.textContent=fmt(e);t.appendChild(s);
  });
}
// SW velocity
{
  const yv=[-400,-350,-300,-250,-200,-150,-100,-50,0,50];
  const ax=tsAxes('solar-wind-velocity-chart',2155,2344,-400,50,yv);
  line(ax,times,swVx,'#f00',2,'vx-line');line(ax,times,swVy,'#008000',2,'vy-line');line(ax,times,swVz,'#00f',2,'vz-line');
  ax.finish();
  ax.g.querySelector('text').textContent='Solar Wind Velocity (GSE Frame)';
  ylabel(ax,46,'Vsw(km/s)','vsw-axis-title');
  legend(ax,1604,2164,72,68,[{y:2175,c:'#f00',s:'Vx'},{y:2197,c:'#008000',s:'Vy'},{y:2220,c:'#00f',s:'Vz'}],'velocity-legend');
}
// Beta
{
  const ax=tsAxes('plasma-beta-chart',2439,2626,0,5,[0,1,2,3,4,5]);
  line(ax,times,betaP,'#00f',2,'beta-p-line');line(ax,times,betaT,'#008000',2,'beta-line');
  ax.finish();
  ax.g.querySelector('text').textContent='Plasma Beta';
  const yl=ylabel(ax,74,'','beta-axis-title');
  const a=sub(yl,'\u03b2','p',true);a.textContent=' and ';
  const bb=document.createElementNS(NS,'tspan');bb.setAttribute('font-style','italic');bb.textContent='\u03b2';yl.appendChild(bb);
  legend(ax,1608,2445,68,59,[{y:2460,c:'#00f',html:t=>{sub(t,'\u03b2','p',true);}},{y:2486,c:'#008000',html:t=>{t.setAttribute('font-style','italic');t.textContent='\u03b2';}}],'beta-legend');
}
// Density
{
  const ax=tsAxes('proton-density-chart',2723,2911,0,30,[0,5,10,15,20,25,30]);
  line(ax,times,densNp,'#00f',2,'np-line');
  ax.finish();
  ax.g.querySelector('text').textContent='Proton Number Density';
  ylabel(ax,70,'Np(#/cc)','np-axis-title');
}
// Temperature
{
  const ax=tsAxes('proton-temperature-chart',3006,3195,0,0.5,[0,0.1,0.2,0.3,0.4,0.5]);
  line(ax,times,tempTp,'#00f',2,'tp-line');
  const lg=el('g',{},ax.g);
  
  
  el('rect',{x:124,y:3013,width:71,height:27,fill:'#fff',stroke:'#000','stroke-width':2},lg);
  el('line',{x1:134,x2:156,y1:3026,y2:3026,stroke:'#00f','stroke-width':2.5},lg);
  const tl=txt(171,3031,'Tp',{'font-size':14},lg);
  
  
  const ax2={g:ax.g,plot:ax.plot,sx:ax.sx,sy:v=>ax.y1-v/5*(ax.y1-ax.y0),x0:ax.x0,x1:ax.x1,y0:ax.y0,y1:ax.y1};
  line(ax2,times,tempRatio,'#f00',2,'te-tp-ratio-line');
  frame(ax);
  xTicks(ax,hourTicks,hourLabels,23);
  const yv=[0,0.1,0.2,0.3,0.4,0.5];yTicks(ax,yv,yv.map(v=>v.toFixed(1)));
  [0,1,2,3,4,5].forEach(v=>{const y=ax2.sy(v);const t=txt(1692,y+5.5,String(v),{'font-size':15,fill:'#f00'},ax.g);
    
    });
  const tt=ax.g.querySelector('text');tt.textContent='Proton Temperature and ';
  const e1=sub(tt,'T','e',true);e1.textContent='/';const e2=sub(tt,'T','p',true);
  ylabel(ax,58,'Tp(10\u2076K)','tp-axis-title');
  const rl=ylabel(ax,1724,'','te-tp-axis-title','#f00');
  const r1=sub(rl,'T','e',true);r1.textContent='/';sub(rl,'T','p',true);
  legend(ax,1588,3013,88,31,[{y:3028,c:'#f00',html:t=>{const q=sub(t,'T','e',true);q.textContent='/';sub(t,'T','p',true);}}],'ratio-legend');
}
</script>
</body></html>
